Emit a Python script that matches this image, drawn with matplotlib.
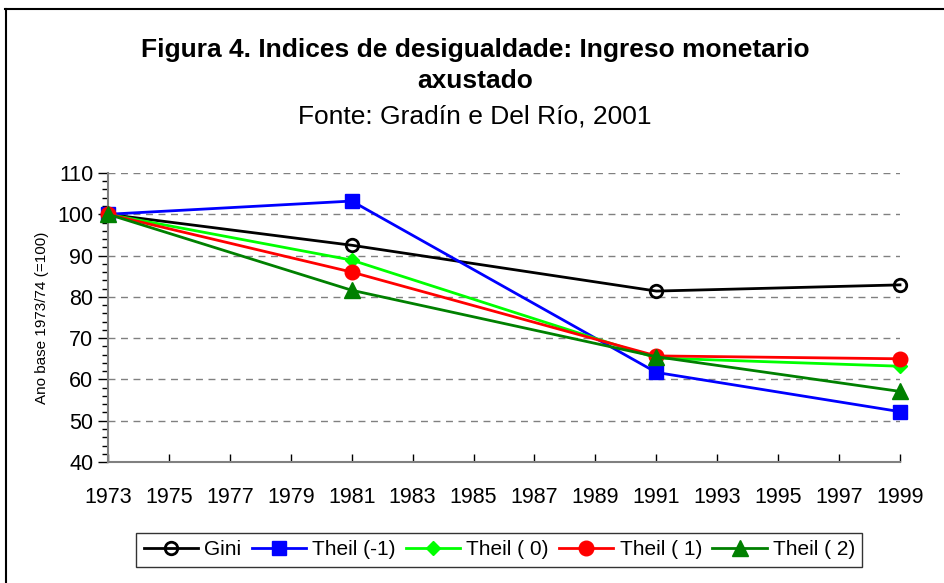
import numpy as np
import matplotlib.pyplot as plt
from matplotlib.lines import Line2D
from matplotlib.ticker import MultipleLocator

plt.rcParams['font.family'] = ['Liberation Sans', 'DejaVu Sans']

years = [1973, 1981, 1991, 1999]
gini = [100, 92.5, 81.4, 82.9]
theil_m1 = [100, 103.2, 61.7, 52.2]
theil_0 = [100, 88.9, 65.2, 63.2]
theil_1 = [100, 86.0, 65.7, 65.0]
theil_2 = [100, 81.6, 65.5, 57.1]

series = [
    ("Gini", gini, "black", "o", 9, "none"),
    ("Theil (-1)", theil_m1, "#0000ff", "s", 10, None),
    ("Theil ( 0)", theil_0, "#00ff00", "D", 7.5, None),
    ("Theil ( 1)", theil_1, "#ff0000", "o", 10.5, None),
    ("Theil ( 2)", theil_2, "#008000", "^", 11, None),
]


def main():
    fig = plt.figure(figsize=(9.44, 5.83), dpi=100)
    ax = fig.add_axes([0.1144, 0.2075, 0.839, 0.4958])

    for label, vals, color, marker, ms, mfc in series:
        ax.plot(years, vals, color=color, lw=2, marker=marker, ms=ms,
                mfc=mfc if mfc else color, mec=color, mew=2 if mfc else 1,
                label=label, clip_on=False, zorder=3)

    ax.set_xlim(1973, 1999)
    ax.set_ylim(40, 110)
    ax.set_xticks(np.arange(1973, 2000, 2))
    ax.yaxis.set_major_locator(MultipleLocator(10))
    ax.yaxis.set_minor_locator(MultipleLocator(2))
    ax.tick_params(axis='x', direction='in', length=6, width=1, labelsize=15.5, pad=18)
    ax.tick_params(axis='y', which='major', direction='out', length=7, width=1, labelsize=15.5)
    ax.tick_params(axis='y', which='minor', direction='out', length=4, width=1)
    ax.grid(axis='y', which='major', color='#808080', ls=(0, (5, 4)), lw=1)
    for s in ['top', 'right']:
        ax.spines[s].set_visible(False)
    for s in ['left', 'bottom']:
        ax.spines[s].set_color('#808080')
        ax.spines[s].set_linewidth(1.5)
    ax.set_ylabel("Ano base 1973/74 (=100)", fontsize=11, labelpad=6)

    fig.text(0.503, 0.914, "Figura 4. Indices de desigualdade: Ingreso monetario",
             ha='center', va='center', fontsize=19, fontweight='bold')
    fig.text(0.503, 0.861, "axustado", ha='center', va='center', fontsize=19, fontweight='bold')
    fig.text(0.503, 0.800, "Fonte: Gradín e Del Río, 2001", ha='center', va='center', fontsize=19)

    leg = fig.legend(loc='center', bbox_to_anchor=(0.529, 0.057), ncol=5, fontsize=15,
                     frameon=True, fancybox=False, edgecolor='black', handlelength=2.6,
                     columnspacing=0.5, handletextpad=0.3, borderpad=0.35)
    leg.get_frame().set_linewidth(1)

    fig.add_artist(Line2D([0.0053, 1], [0.9846, 0.9846], color='black', lw=1.5))
    fig.add_artist(Line2D([0.0064, 0.0064], [0, 0.9846], color='black', lw=1.5))

    fig.savefig("out.png", dpi=100)


if __name__ == '__main__':
    main()
